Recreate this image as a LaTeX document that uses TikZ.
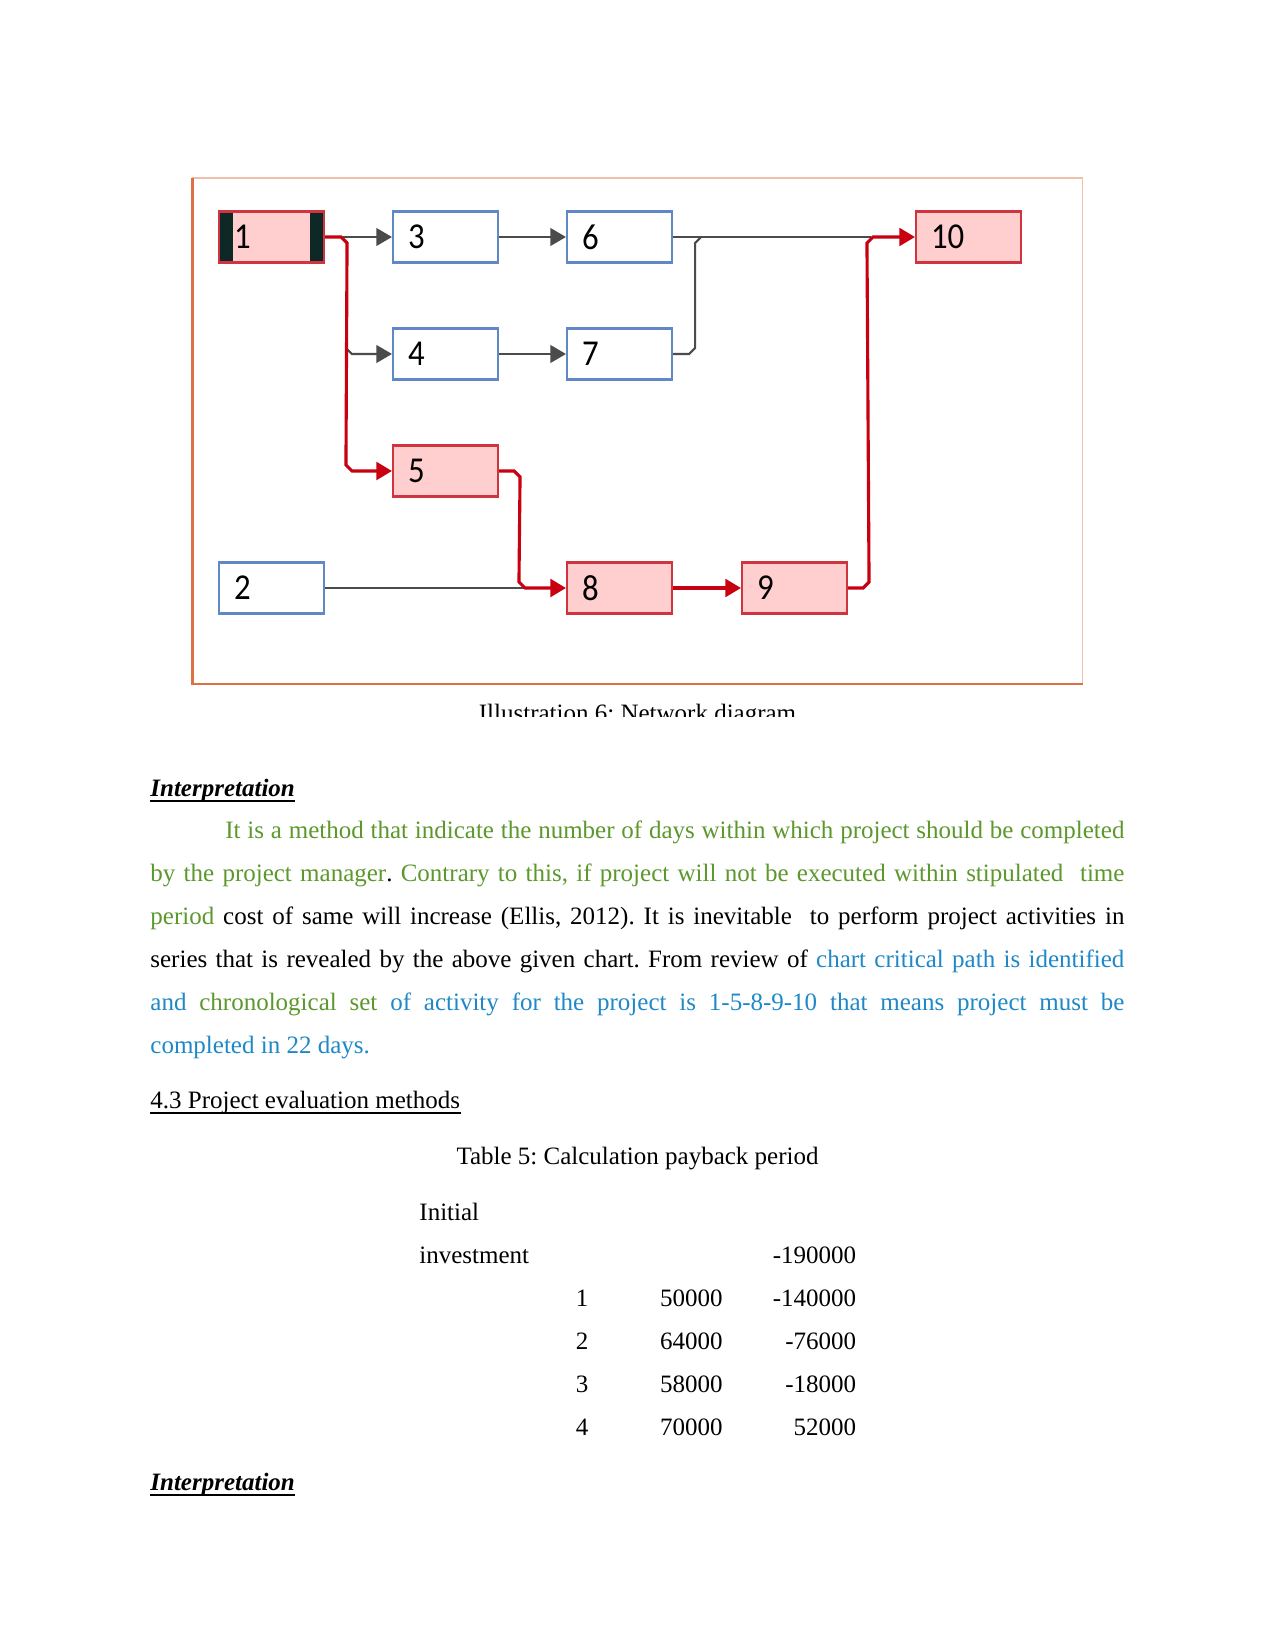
\documentclass[tikz,border=0pt]{standalone}
\usepackage{fontspec}
\setmainfont{Liberation Serif}
\newfontfamily\nodefont{Carlito}[FakeStretch=0.9]
\usetikzlibrary{arrows.meta,calc}
\definecolor{txtgreen}{RGB}{92,152,44}
\definecolor{txtblue}{RGB}{30,136,200}
\definecolor{boxblue}{RGB}{96,136,198}
\definecolor{boxred}{RGB}{208,52,62}
\definecolor{boxpink}{RGB}{255,206,206}
\definecolor{linered}{RGB}{200,0,16}
\definecolor{linegray}{RGB}{75,75,75}
\definecolor{darkbar}{RGB}{14,40,38}
\definecolor{framecol}{RGB}{222,112,70}
\begin{document}
\begin{tikzpicture}[x=0.48pt,y=-0.48pt,
  act/.style={rectangle, minimum width=50.4pt, minimum height=24.5pt, text width=36pt, inner xsep=7.2pt, inner ysep=0pt, align=left, font=\nodefont\fontsize{17.5pt}{17.5pt}\selectfont, line width=1pt},
  normal/.style={act, draw=boxblue, fill=white},
  crit/.style={act, draw=boxred, fill=boxpink},
  gline/.style={line width=1pt, draw=linegray},
  rline/.style={line width=1.5pt, draw=linered},
  garr/.style={gline, -{Triangle[length=7.5pt,width=8.5pt]}},
  rarr/.style={rline, -{Triangle[length=7.5pt,width=8.5pt]}},
  body/.style={anchor=base west, inner sep=0pt, font=\fontsize{12pt}{14pt}\selectfont\frenchspacing},
  cbody/.style={body, anchor=base},
  rbody/.style={body, anchor=base east},
  uline/.style={line width=0.5pt, draw=black},
]
\fill[white] (0,0) rectangle (1275,1650);
\useasboundingbox (0,0) rectangle (1275,1650);

% frame
\draw[draw=framecol!45, line width=0.6pt] (192.5,178) rectangle (1082.5,684);
\draw[draw=framecol, line width=1pt] (192.5,178) -- (192.5,684) -- (1082.5,684);

% activity boxes
\node[crit, path picture={
    \fill[darkbar] (path picture bounding box.south west) rectangle ([xshift=6.8pt]path picture bounding box.north west);
    \fill[darkbar] ([xshift=-6.8pt]path picture bounding box.south east) rectangle (path picture bounding box.north east);}]
  (n1) at (271.5,237) {1};
\node[normal] (n3) at (445.5,237) {3};
\node[normal] (n6) at (619.5,237) {6};
\node[crit]   (n10) at (968.5,237) {10};
\node[normal] (n4) at (445.5,354) {4};
\node[normal] (n7) at (619.5,354) {7};
\node[crit]   (n5) at (445.5,471) {5};
\node[normal] (n2) at (271.5,588) {2};
\node[crit]   (n8) at (619.5,588) {8};
\node[crit]   (n9) at (794.5,588) {9};

% connectors
\draw[garr] ($(n1.east)+(18,0)$) -- (n3.west);
\draw[garr] ($(n4.west)+(-46,-6)$) -- ($(n4.west)+(-40,0)$) -- (n4.west);
\draw[rarr] (n1.east) -- ++(16,0) -- ++(6,6) -- ($(n5.west)+(-46,-6)$) -- ($(n5.west)+(-40,0)$) -- (n5.west);
\draw[garr] (n3.east) -- (n6.west);
\draw[garr] (n4.east) -- (n7.west);
\draw[gline] (n6.east) -- ($(n10.west)+(-44,0)$);
\draw[gline] (n7.east) -- ++(16,0) -- ++(6,-6) -- ($(n6.east)+(22,6)$) -- ++(6,-6);
\draw[gline] (n2.east) -- ($(n8.west)+(-40,0)$);
\draw[rarr] (n5.east) -- ++(15,0) -- ++(6,6) -- ($(n8.west)+(-47,-6)$) -- ++(6,6) -- (n8.west);
\draw[rarr] (n8.east) -- (n9.west);
\draw[rarr] (n9.east) -- ++(15,0) -- ++(6,-6) -- ($(n10.west)+(-48,6)$) -- ++(6,-6) -- (n10.west);

% caption (cut off as in the reference)
\begin{scope}
\clip (0,0) rectangle (1275,716);
\node[cbody] (cap) at (637.5,721) {Illustration 6: Network diagram};
\end{scope}

% text
\node[body] (h1) at (150,796) {\textbf{\textit{Interpretation}}};
\draw[uline] ($(h1.base west)+(0,5)$) -- ($(h1.base east)+(0,5)$);
\node[body] (p1) at (225,838.5) {\hbox to 431.5pt{\color{txtgreen}It is a method that indicate the number of days within which project should be completed}};
\node[body] (p2) at (150,881.5) {\hbox to 467.5pt{\color{txtgreen}by the project manager{\color{black}.} Contrary to this, if project will not be executed within stipulated\ \ time}};
\node[body] (p3) at (150,924.5) {\hbox to 467.5pt{{\color{txtgreen}period} cost of same will increase (Ellis, 2012). It is inevitable\ \ to perform project activities in}};
\node[body] (p4) at (150,967.5) {\hbox to 467.5pt{series that is revealed by the above given chart. From review of {\color{txtblue}chart critical path is identified}}};
\node[body] (p5) at (150,1010.5) {\hbox to 467.5pt{\color{txtblue}and {\color{txtgreen}chronological set} of activity for the project is 1-5-8-9-10 that means project must be}};
\node[body] (p6) at (150,1053.5) {\color{txtblue}completed in 22 days.};

\node[body] (s43) at (150,1108) {4.3 Project evaluation methods};
\draw[uline] ($(s43.base west)+(0,5)$) -- ($(s43.base east)+(0,5)$);
\node[cbody] (t5) at (637.5,1164) {Table 5: Calculation payback period};

\node[body] (ti1) at (419,1220.5) {Initial};
\node[body] (ti2) at (419,1263.5) {investment};
\node[rbody] (c0) at (856.5,1263.5) {-190000};
\node[cbody] (y1) at (582,1306.5) {1};
\node[rbody] (a1) at (723,1306.5) {50000};
\node[rbody] (c1) at (856.5,1306.5) {-140000};
\node[cbody] (y2) at (582,1349.5) {2};
\node[rbody] (a2) at (723,1349.5) {64000};
\node[rbody] (c2) at (856.5,1349.5) {-76000};
\node[cbody] (y3) at (582,1392.5) {3};
\node[rbody] (a3) at (723,1392.5) {58000};
\node[rbody] (c3) at (856.5,1392.5) {-18000};
\node[cbody] (y4) at (582,1435.5) {4};
\node[rbody] (a4) at (723,1435.5) {70000};
\node[rbody] (c4) at (856.5,1435.5) {52000};

\node[body] (h2) at (150,1490) {\textbf{\textit{Interpretation}}};
\draw[uline] ($(h2.base west)+(0,5)$) -- ($(h2.base east)+(0,5)$);
\end{tikzpicture}
\end{document}
